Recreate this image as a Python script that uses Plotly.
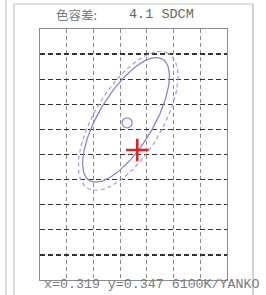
import numpy as np
import plotly.graph_objects as go

# ---- data (CIE x,y chromaticity) ----
x_range = [0.300, 0.335]
y_range = [0.320, 0.370]
grid_step = 0.005

# ellipses: centre x, centre y, semi-major, semi-minor, angle (deg)
solid_ellipse = [0.3161, 0.3519, 0.0139, 0.0052, 61]
dashed_ellipse = [0.3165, 0.3517, 0.0154, 0.0064, 61]
centre_point = [0.3163, 0.3513]
measured_point = [0.3182, 0.3459]

title_cjk = "色容差:"
title_value = "4.1 SDCM"
footer_text = "x=0.319 y=0.347 6100K/YANKO"


def ellipse_pts(cx, cy, a, b, ang):
    t = np.linspace(0, 2 * np.pi, 200)
    th = np.deg2rad(ang)
    xs = cx + a * np.cos(t) * np.cos(th) - b * np.sin(t) * np.sin(th)
    ys = cy + a * np.cos(t) * np.sin(th) + b * np.sin(t) * np.cos(th)
    return xs, ys


fig = go.Figure()
ex, ey = ellipse_pts(*dashed_ellipse)
fig.add_trace(go.Scatter(x=ex, y=ey, mode="lines",
                         line=dict(color="#9d9de2", width=1.2, dash="4px,3px"),
                         hoverinfo="skip"))
ex, ey = ellipse_pts(*solid_ellipse)
fig.add_trace(go.Scatter(x=ex, y=ey, mode="lines",
                         line=dict(color="#8686d6", width=1.3),
                         hoverinfo="skip"))
fig.add_trace(go.Scatter(x=[centre_point[0]], y=[centre_point[1]], mode="markers",
                         marker=dict(symbol="circle-open", size=10, color="#8686d6",
                                     line=dict(color="#8686d6", width=1.3))))
fig.add_trace(go.Scatter(x=[measured_point[0]], y=[measured_point[1]], mode="markers",
                         marker=dict(symbol="cross-thin", size=16, color="#e52020",
                                     line=dict(color="#e52020", width=2.6))))

L, R, T, B = 40, 39, 29, 15
W, H = 266, 295
pw, ph = W - L - R, H - T - B


def px(x):
    return (x - L) / pw


def py(y):
    return (H - B - y) / ph


shapes = [
    dict(type="line", xref="paper", yref="paper", x0=px(6), x1=px(6), y0=py(0), y1=py(295),
         line=dict(color="#c4c4c4", width=1.2)),
    dict(type="line", xref="paper", yref="paper", x0=px(14), x1=px(14), y0=py(4), y1=py(295),
         line=dict(color="#c4c4c4", width=1.2)),
    dict(type="line", xref="paper", yref="paper", x0=px(14), x1=px(253), y0=py(4), y1=py(4),
         line=dict(color="#c4c4c4", width=1.2)),
    dict(type="line", xref="paper", yref="paper", x0=px(253), x1=px(253), y0=py(4), y1=py(295),
         line=dict(color="#b4b4b4", width=1.2)),
]

fig.update_layout(
    width=W, height=H,
    margin=dict(l=L, r=R, t=T, b=B),
    paper_bgcolor="white", plot_bgcolor="white",
    showlegend=False,
    shapes=shapes,
    xaxis=dict(range=x_range, tick0=x_range[0], dtick=grid_step, showticklabels=False,
               ticks="", showgrid=True, gridcolor="#8a8a8a", gridwidth=1, griddash="4px,3px",
               zeroline=False, showline=True, linecolor="#8c8c8c", linewidth=1, mirror=True),
    yaxis=dict(range=y_range, tick0=y_range[0], dtick=grid_step, showticklabels=False,
               ticks="", showgrid=True, gridcolor="#333333", gridwidth=1.3, griddash="5px,3px",
               zeroline=False, showline=True, linecolor="#8c8c8c", linewidth=1, mirror=True),
    annotations=[
        dict(text=title_cjk, xref="paper", yref="paper", x=px(55), y=py(14),
             xanchor="left", yanchor="middle", showarrow=False, borderpad=0,
             font=dict(family="Noto Sans CJK SC", size=12.5, color="#777777")),
        dict(text=title_value, xref="paper", yref="paper", x=px(128), y=py(14),
             xanchor="left", yanchor="middle", showarrow=False, borderpad=0,
             font=dict(family="Liberation Mono", size=13.5, color="#666666")),
        dict(text=footer_text, xref="paper", yref="paper", x=px(43), y=py(284),
             xanchor="left", yanchor="middle", showarrow=False, borderpad=0,
             font=dict(family="Liberation Mono", size=13.3, color="#7a7a7a")),
    ],
)

fig.write_html("out.html",
               config={"displayModeBar": False, "staticPlot": True},
               post_script="document.body.style.margin='0px';document.body.style.overflow='hidden';")
